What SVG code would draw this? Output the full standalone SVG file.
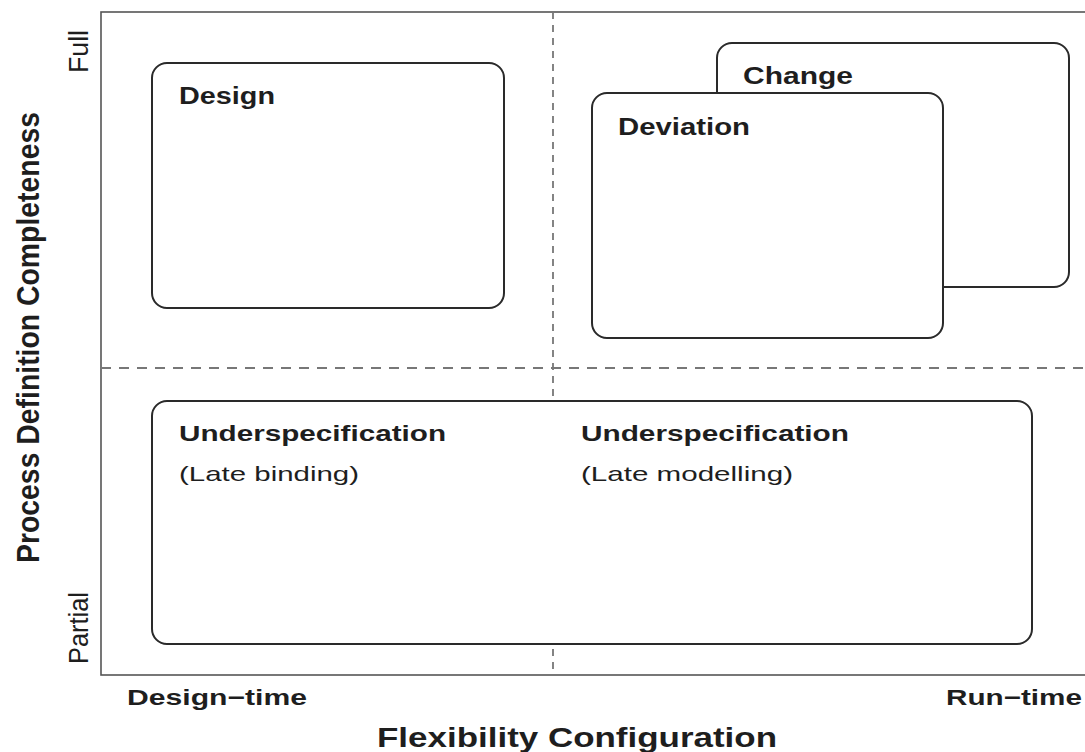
<svg xmlns="http://www.w3.org/2000/svg" width="1085" height="752" viewBox="0 0 1085 752">
<style>
.frame{fill:none;stroke:#555;stroke-width:1.6}
.dash{fill:none;stroke:#777;stroke-width:1.8}
.box{fill:#fff;stroke:#2a2a2a;stroke-width:2}
.t{font-family:"Liberation Sans",Arial,sans-serif;fill:#1e1e1e}
.b{font-weight:bold}
</style>
<rect width="1085" height="752" fill="#fff"/>
<rect class="frame" x="101" y="12" width="1010" height="663"/>
<g id="connectors">
<line class="dash" x1="553" y1="12" x2="553" y2="675" stroke-dasharray="7 6"/>
<line class="dash" x1="101" y1="368" x2="1085" y2="368" stroke-dasharray="10 8"/>
</g>
<g id="design">
<rect class="box" x="152" y="63" width="352" height="245" rx="15"/>
<text class="t b" x="179" y="103.5" font-size="23" textLength="96" lengthAdjust="spacingAndGlyphs">Design</text>
</g>
<g id="change">
<rect class="box" x="717" y="43" width="352" height="244" rx="15"/>
<text class="t b" x="743" y="83.5" font-size="23" textLength="110" lengthAdjust="spacingAndGlyphs">Change</text>
</g>
<g id="deviation">
<rect class="box" x="592" y="93" width="351" height="245" rx="15"/>
<text class="t b" x="618" y="135" font-size="23" textLength="132" lengthAdjust="spacingAndGlyphs">Deviation</text>
</g>
<g id="underspecification">
<rect class="box" x="152" y="401" width="880" height="243" rx="15"/>
<text class="t b" x="179" y="441" font-size="22" textLength="267" lengthAdjust="spacingAndGlyphs">Underspecification</text>
<text class="t" x="179" y="481" font-size="21" textLength="180" lengthAdjust="spacingAndGlyphs">(Late binding)</text>
<text class="t b" x="581" y="441" font-size="22" textLength="268" lengthAdjust="spacingAndGlyphs">Underspecification</text>
<text class="t" x="581" y="481" font-size="21" textLength="212" lengthAdjust="spacingAndGlyphs">(Late modelling)</text>
</g>
<g id="axes">
<text class="t b" x="127" y="705" font-size="22" textLength="180" lengthAdjust="spacingAndGlyphs">Design−time</text>
<text class="t b" x="946" y="705" font-size="22" textLength="136" lengthAdjust="spacingAndGlyphs">Run−time</text>
<text class="t b" x="377" y="746.5" font-size="28" textLength="400" lengthAdjust="spacingAndGlyphs">Flexibility Configuration</text>
<text class="t b" transform="translate(38.5,563) rotate(-90)" font-size="32" textLength="451" lengthAdjust="spacingAndGlyphs">Process Definition Completeness</text>
<text class="t" transform="translate(88,73) rotate(-90)" font-size="27" textLength="43" lengthAdjust="spacingAndGlyphs">Full</text>
<text class="t" transform="translate(88,664) rotate(-90)" font-size="27" textLength="72" lengthAdjust="spacingAndGlyphs">Partial</text>
</g>
</svg>
